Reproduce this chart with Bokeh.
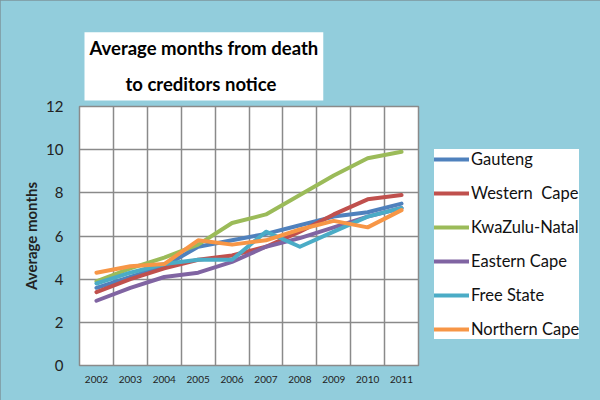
from bokeh.plotting import figure
from bokeh.models import Legend, LegendItem, FixedTicker, Range1d, Title
from bokeh.embed import file_html
from bokeh.resources import INLINE

# Average months from death to creditors notice, by province
years = [2002, 2003, 2004, 2005, 2006, 2007, 2008, 2009, 2010, 2011]
gauteng = [3.6, 4.1, 4.6, 5.5, 5.8, 6.1, 6.5, 6.9, 7.1, 7.5]
western_cape = [3.4, 4.0, 4.5, 4.9, 5.1, 5.5, 6.2, 7.0, 7.7, 7.9]
kwazulu_natal = [3.9, 4.5, 5.0, 5.6, 6.6, 7.0, 7.9, 8.8, 9.6, 9.9]
eastern_cape = [3.0, 3.6, 4.1, 4.3, 4.8, 5.5, 5.9, 6.4, 6.9, 7.3]
free_state = [3.8, 4.3, 4.7, 4.9, 4.9, 6.2, 5.5, 6.2, 6.9, 7.3]
northern_cape = [4.3, 4.6, 4.7, 5.8, 5.6, 5.8, 6.3, 6.7, 6.4, 7.2]

series_names = ["Gauteng", "Western  Cape", "KwaZulu-Natal", "Eastern Cape", "Free State", "Northern Cape"]
series_values = [gauteng, western_cape, kwazulu_natal, eastern_cape, free_state, northern_cape]
series_colors = ["#4F81BD", "#C0504D", "#9BBB59", "#8064A2", "#4BACC6", "#F79646"]
y_ticks = [0, 2, 4, 6, 8, 10, 12]

FONT = "Lato"
BG = "#92CDDC"
GRID = "#8a8a8a"

p = figure(frame_width=339, frame_height=259, output_backend="svg", toolbar_location=None,
           x_range=Range1d(years[0] - 0.5, years[-1] + 0.5), y_range=Range1d(0, 12),
           min_border_left=79, min_border_right=182, min_border_top=106, min_border_bottom=35,
           styles={"outline": "1.5px solid #7d959c", "outline-offset": "-1.5px"})
p.background_fill_color = "white"
p.border_fill_color = BG
p.outline_line_color = GRID
p.outline_line_width = 1.5

# grid lines sit between the year categories
p.xgrid.ticker = FixedTicker(ticks=[y - 0.5 for y in years] + [years[-1] + 0.5])
p.ygrid.ticker = FixedTicker(ticks=y_ticks)
for g in (p.xgrid[0], p.ygrid[0]):
    g.grid_line_color = GRID
    g.grid_line_width = 1.5

p.xaxis.ticker = FixedTicker(ticks=years)
p.xaxis.major_tick_line_color = None
p.xaxis.major_tick_out = 0
p.xaxis.minor_tick_line_color = None
p.xaxis.axis_line_color = GRID
p.xaxis.major_label_text_font = FONT
p.xaxis.major_label_text_font_size = "10px"
p.xaxis.major_label_text_color = "#222222"
p.xaxis.major_label_standoff = 10

p.yaxis.ticker = FixedTicker(ticks=y_ticks)
p.yaxis.major_tick_line_color = None
p.yaxis.major_tick_out = 0
p.yaxis.minor_tick_line_color = None
p.yaxis.axis_line_color = GRID
p.yaxis.major_label_text_font = FONT
p.yaxis.major_label_text_font_size = "15px"
p.yaxis.major_label_text_color = "#222222"
p.yaxis.major_label_standoff = 16
p.yaxis.axis_label = "Average months"
p.yaxis.axis_label_text_font = FONT
p.yaxis.axis_label_text_font_size = "15px"
p.yaxis.axis_label_text_font_style = "bold"
p.yaxis.axis_label_text_color = "#222222"
p.yaxis.axis_label_standoff = 3

items = []
for name, vals, col in zip(series_names, series_values, series_colors):
    r = p.line(years, vals, line_color=col, line_width=4, line_join="round", line_cap="round")
    items.append(LegendItem(label=name, renderers=[r]))

legend = Legend(items=items, location=(16, 26))
legend.background_fill_color = "white"
legend.background_fill_alpha = 1
legend.border_line_color = None
legend.label_text_font = FONT
legend.label_text_font_size = "16.5px"
legend.label_text_color = "#111111"
legend.glyph_width = 35
legend.label_standoff = 2
legend.padding = 10
legend.spacing = 14
legend.margin = 0
p.add_layout(legend, "right")

# white title box above the plot area; second line centred under the first
title = Title(text="Average months from death\n" + "\u00a0" * 8 + "to creditors notice",
              align="left", offset=5, standoff=12, text_font=FONT, text_font_style="bold",
              text_font_size="18.5px", text_line_height=1.65, text_color="#000000",
              background_fill_color="white", padding=5)
p.add_layout(title, "above")

# blank spacer between the title box and the plot area
spacer = Title(text=" ", standoff=20, text_font_size="1px", text_alpha=0)
p.add_layout(spacer, "above")

open("out.html", "w").write(file_html(p, INLINE))
